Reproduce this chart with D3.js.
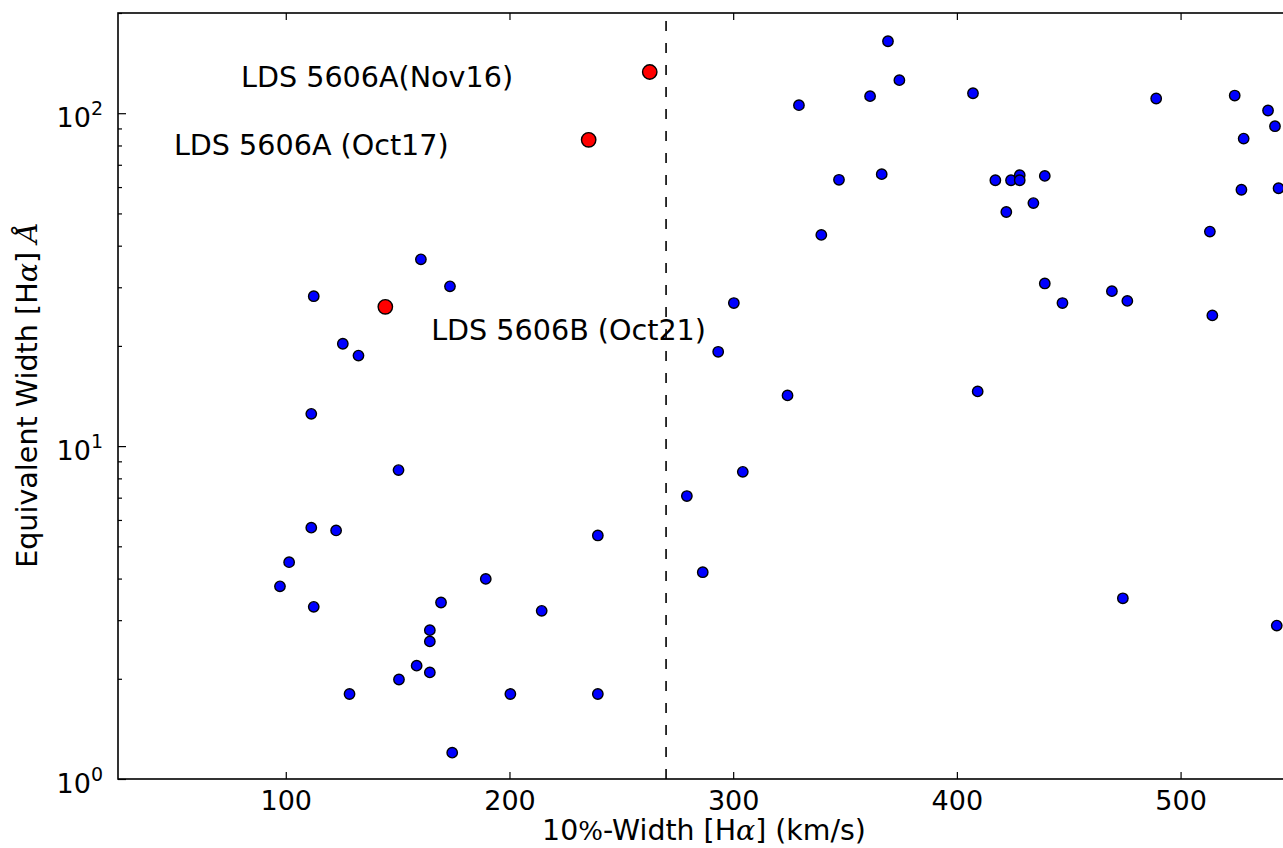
<!DOCTYPE html>
<html><head><meta charset="utf-8">
<script src="https://cdn.jsdelivr.net/npm/d3@7/dist/d3.min.js"></script>
<style>html,body{margin:0;padding:0;overflow:hidden;background:#fff}</style>
</head><body>
<svg id="chart" width="1300" height="848"></svg>
<script>
// ---- data ----
const sampleWidth = [97.4,101.5,112.5,111.4,122.5,111.4,112.5,125.5,132.5,150.4,160.4,173.4,128.5,150.6,158.5,164.4,164.4,164.4,169.4,174.4,189.4,200.4,214.4,239.5,239.5,
  279.3,286.4,304.3,300.3,293.3,324.3,329.4,339.4,347.3,361.2,366.4,369.2,374.3,407.2,409.3,417.2,424.2,428.1,428.1,439.3,434.2,422.1,439.3,447.2,469.3,476.2,474.2,489.1,513.1,514.2,524.2,539.1,542.2,528.2,527.2,543.8,543.0];
const sampleEW = [3.79,4.48,3.29,5.69,5.58,12.5,28.2,20.3,18.7,8.47,36.4,30.2,1.80,1.99,2.19,2.09,2.59,2.80,3.39,1.20,3.99,1.80,3.20,5.39,1.80,
  7.08,4.18,8.37,26.9,19.2,14.2,105.7,43.1,63.1,112.5,65.6,164.5,125.7,114.8,14.6,62.9,62.9,65.1,62.9,64.8,53.7,50.5,30.8,26.9,29.2,27.3,3.49,110.7,44.1,24.7,113.0,101.9,91.4,83.9,58.9,59.5,2.89];
const ldsWidth = [262.7, 235.4, 144.5];
const ldsEW = [133.0, 83.2, 26.2];
const ldsLabels = ["LDS 5606A(Nov16)", "LDS 5606A (Oct17)", "LDS 5606B (Oct21)"];
const ldsLabelWidth = [80, 50, 165];
const ldsLabelEW = [119.5, 74.8, 20.8];
const xTickValues = [100, 200, 300, 400, 500];
const yTickValues = [1, 10, 100];
const yTickExponents = ["0", "1", "2"];
const dividerWidth = 270;
const xDomain = [25, 550];
const yDomain = [1, 200];

// ---- layout ----
const plotLeft = 118, plotTop = 13, plotBottom = 779, plotRight = 118 + 525 * 2.237;
const font = "'DejaVu Sans', sans-serif";
const svg = d3.select("#chart");
const x = d3.scaleLinear().domain(xDomain).range([plotLeft, plotRight]);
const y = d3.scaleLog().domain(yDomain).range([plotBottom, plotTop]);

// dashed divider
svg.append("line")
  .attr("x1", x(dividerWidth)).attr("x2", x(dividerWidth))
  .attr("y1", y(yDomain[0])).attr("y2", y(yDomain[1]))
  .attr("stroke", "#000").attr("stroke-width", 1.6)
  .attr("stroke-dasharray", "10,12");

// axes
const minor = [];
for (const d of [1, 10, 100]) for (let k = 2; k <= 9; k++) if (d * k <= 200) minor.push(d * k);

function styleAxis(g) {
  g.select(".domain").remove();
  g.selectAll(".tick line").attr("stroke", "#000").attr("stroke-width", 1.2);
}
svg.append("g").attr("transform", `translate(0,${plotBottom})`)
  .call(d3.axisBottom(x).tickValues(xTickValues).tickSize(-7).tickPadding(12).tickFormat(d3.format("d")))
  .call(styleAxis)
  .call(g => g.selectAll("text").attr("font-family", font).attr("font-size", 27).attr("fill", "#000"));
svg.append("g").attr("transform", `translate(0,${plotTop})`)
  .call(d3.axisTop(x).tickValues(xTickValues).tickSize(-7).tickFormat(""))
  .call(styleAxis);
svg.append("g").attr("transform", `translate(${plotLeft},0)`)
  .call(d3.axisLeft(y).tickValues(yTickValues).tickSize(-8).tickFormat(""))
  .call(styleAxis);
svg.append("g").attr("transform", `translate(${plotLeft},0)`)
  .call(d3.axisLeft(y).tickValues(minor).tickSize(-4).tickFormat(""))
  .call(styleAxis);
svg.append("g").attr("transform", `translate(${plotRight},0)`)
  .call(d3.axisRight(y).tickValues(yTickValues).tickSize(-8).tickFormat(""))
  .call(styleAxis);
svg.append("g").attr("transform", `translate(${plotRight},0)`)
  .call(d3.axisRight(y).tickValues(minor).tickSize(-4).tickFormat(""))
  .call(styleAxis);

// y tick labels 10^n
const yl = svg.append("g").selectAll("text").data(yTickValues).join("text")
  .attr("x", plotLeft - 15).attr("y", d => y(d) + 14)
  .attr("text-anchor", "end").attr("font-family", font).attr("font-size", 27).attr("fill", "#000");
yl.append("tspan").text("10");
yl.append("tspan").attr("dy", -12).attr("font-size", 19).text((d, i) => yTickExponents[i]);

// frame
svg.append("rect").attr("x", plotLeft).attr("y", plotTop).attr("width", plotRight - plotLeft).attr("height", plotBottom - plotTop)
  .attr("fill", "none").attr("stroke", "#000").attr("stroke-width", 1.6);

// points
const pts = sampleWidth.map((w, i) => ({w, e: sampleEW[i]}));
svg.append("g").selectAll("circle").data(pts).join("circle")
  .attr("cx", d => x(d.w)).attr("cy", d => y(d.e)).attr("r", 5.2)
  .attr("fill", "#0000ff").attr("stroke", "#000").attr("stroke-width", 1.4);
const lds = ldsWidth.map((w, i) => ({w, e: ldsEW[i]}));
svg.append("g").selectAll("circle").data(lds).join("circle")
  .attr("cx", d => x(d.w)).attr("cy", d => y(d.e)).attr("r", 7.2)
  .attr("fill", "#ff0000").attr("stroke", "#000").attr("stroke-width", 1.4);

// annotations
svg.append("g").selectAll("text").data(ldsLabels).join("text")
  .attr("x", (d, i) => x(ldsLabelWidth[i])).attr("y", (d, i) => y(ldsLabelEW[i]))
  .attr("font-family", font).attr("font-size", 28.6).attr("fill", "#000")
  .text(d => d);

// axis titles
const xt = svg.append("text").attr("x", 704).attr("y", 840).attr("text-anchor", "middle")
  .attr("font-family", font).attr("font-size", 28.4).attr("fill", "#000");
xt.append("tspan").text("10");
xt.append("tspan").attr("font-family", "'DejaVu Serif', serif").attr("font-size", 26).text("%");
xt.append("tspan").text("-Width [H");
xt.append("tspan").attr("font-family", "'DejaVu Serif', serif").attr("font-style", "italic").text("α");
xt.append("tspan").text("] (km/s)");

const yt = svg.append("text").attr("transform", "translate(37,395) rotate(-90)").attr("text-anchor", "middle")
  .attr("font-family", font).attr("font-size", 28.6).attr("fill", "#000");
yt.append("tspan").text("Equivalent Width [H");
yt.append("tspan").attr("font-family", "'DejaVu Serif', serif").attr("font-style", "italic").text("α");
yt.append("tspan").text("] ");
yt.append("tspan").attr("font-family", "'DejaVu Serif', serif").attr("font-style", "italic").text("Å");
</script>
</body></html>
